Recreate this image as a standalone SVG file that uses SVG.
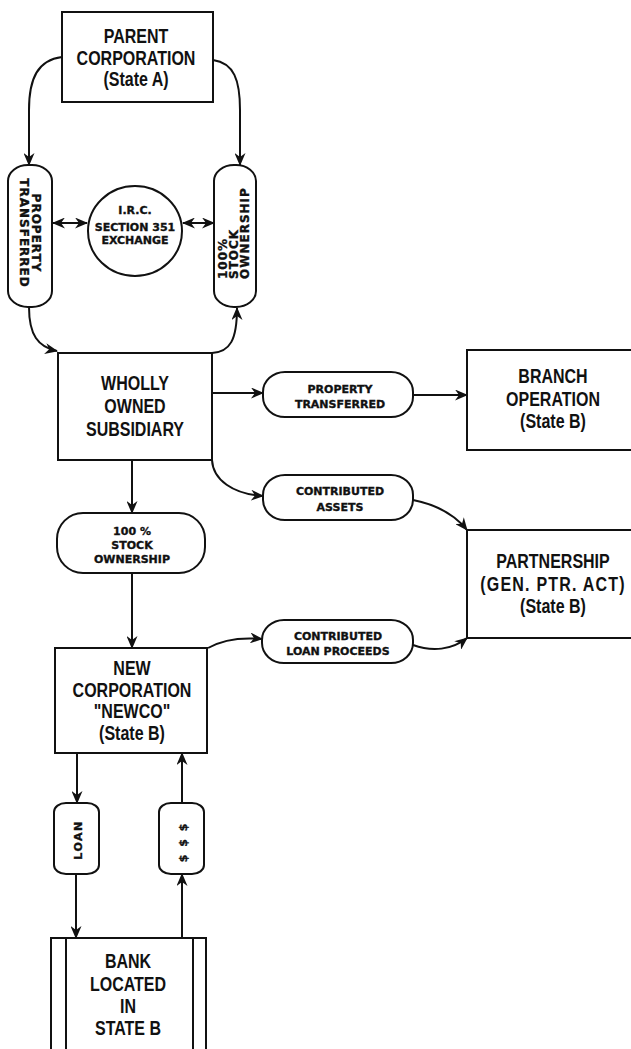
<svg xmlns="http://www.w3.org/2000/svg" width="631" height="1049" viewBox="0 0 631 1049">
<style>
.bg{fill:#fff}
.box{fill:none;stroke:#111;stroke-width:2}
.pill{fill:#fff;stroke:#111;stroke-width:2}
.big{font-family:"Liberation Sans",Arial,sans-serif;font-weight:bold;font-size:20px;fill:#111;text-anchor:middle}
.sm{font-family:"DejaVu Sans",sans-serif;font-weight:bold;font-size:11px;fill:#111;stroke:#111;stroke-width:0.35;text-anchor:middle}
.vt{font-family:"DejaVu Sans",sans-serif;font-weight:bold;font-size:12px;fill:#111;stroke:#111;stroke-width:0.35;letter-spacing:1px}
.con{fill:none;stroke:#111;stroke-width:2}
</style>
<defs>
<marker id="ah" viewBox="0 0 13 11" refX="12" refY="5.5" markerWidth="13" markerHeight="11" markerUnits="userSpaceOnUse" orient="auto-start-reverse">
<path d="M0,0 L13,5.5 L0,11 L4,5.5 z" fill="#111"/>
</marker>
</defs>
<rect class="bg" x="0" y="0" width="631" height="1049"/>

<g id="connectors">
<path class="con" d="M62,57 C38,60 29,78 29,110 L29,165" marker-end="url(#ah)"/>
<path class="con" d="M213,60 C234,63 240,80 240,110 L240,165" marker-end="url(#ah)"/>
<path class="con" d="M29,307 C29,335 38,347 57,351" marker-end="url(#ah)"/>
<path class="con" d="M212,353 C230,352 237,340 237,308" marker-end="url(#ah)"/>
<path class="con" d="M53,223 L87,223" marker-start="url(#ah)" marker-end="url(#ah)"/>
<path class="con" d="M183,223 L214,223" marker-start="url(#ah)" marker-end="url(#ah)"/>
<path class="con" d="M212,393 L263,393" marker-end="url(#ah)"/>
<path class="con" d="M413,395 L467,395" marker-end="url(#ah)"/>
<path class="con" d="M212,460 C213,480 233,494 263,496" marker-end="url(#ah)"/>
<path class="con" d="M413,500 C438,505 455,515 467,530" marker-end="url(#ah)"/>
<path class="con" d="M132,460 L132,513" marker-end="url(#ah)"/>
<path class="con" d="M132,573 L132,648" marker-end="url(#ah)"/>
<path class="con" d="M208,648 C222,640 240,637 262,639" marker-end="url(#ah)"/>
<path class="con" d="M413,645 C432,652 452,650 467,638" marker-end="url(#ah)"/>
<path class="con" d="M77,753 L77,803" marker-end="url(#ah)"/>
<path class="con" d="M76,874 L76,938" marker-end="url(#ah)"/>
<path class="con" d="M182,938 L182,874" marker-end="url(#ah)"/>
<path class="con" d="M182,803 L182,753" marker-end="url(#ah)"/>
</g>

<g id="parent">
<rect class="box" x="62" y="12" width="151" height="90"/>
<g transform="translate(136,0) scale(0.8,1)">
<text class="big" x="0" y="43">PARENT</text>
<text class="big" x="0" y="65">CORPORATION</text>
<text class="big" x="0" y="86">(State A)</text>
</g>
</g>

<g id="pill-property-left">
<rect class="pill" x="8" y="165" width="44" height="142" rx="20" ry="16"/>
<g transform="translate(30,233) rotate(90)">
<text class="vt" x="0" y="-2" text-anchor="middle">PROPERTY</text>
<text class="vt" x="0" y="10" text-anchor="middle">TRANSFERRED</text>
</g>
</g>

<g id="irc351">
<ellipse class="pill" cx="135" cy="231" rx="47" ry="45"/>
<text class="sm" x="135" y="214">I.R.C.</text>
<text class="sm" x="135" y="231">SECTION 351</text>
<text class="sm" x="135" y="244">EXCHANGE</text>
</g>

<g id="pill-stock-right">
<rect class="pill" x="214" y="165" width="42" height="142" rx="20" ry="16"/>
<g transform="translate(235,279) rotate(-90)">
<text class="vt" x="0" y="-8">100%</text>
<text class="vt" x="0" y="3">STOCK</text>
<text class="vt" x="0" y="14">OWNERSHIP</text>
</g>
</g>

<g id="wos">
<rect class="box" x="58" y="353" width="154" height="107"/>
<g transform="translate(135,0) scale(0.8,1)">
<text class="big" x="0" y="390">WHOLLY</text>
<text class="big" x="0" y="413">OWNED</text>
<text class="big" x="0" y="436">SUBSIDIARY</text>
</g>
</g>

<g id="pill-property-mid">
<rect class="pill" x="263" y="372" width="150" height="45" rx="22" ry="20"/>
<text class="sm" x="340" y="393">PROPERTY</text>
<text class="sm" x="340" y="408">TRANSFERRED</text>
</g>

<g id="branch">
<rect class="box" x="467" y="350" width="200" height="100"/>
<g transform="translate(553,0) scale(0.8,1)">
<text class="big" x="0" y="383">BRANCH</text>
<text class="big" x="0" y="406">OPERATION</text>
<text class="big" x="0" y="428">(State B)</text>
</g>
</g>

<g id="pill-contributed-assets">
<rect class="pill" x="263" y="475" width="150" height="45" rx="22" ry="20"/>
<text class="sm" x="340" y="495">CONTRIBUTED</text>
<text class="sm" x="340" y="511">ASSETS</text>
</g>

<g id="partnership">
<rect class="box" x="467" y="530" width="200" height="108"/>
<g transform="translate(553,0) scale(0.8,1)">
<text class="big" x="0" y="568">PARTNERSHIP</text>
<text class="big" x="0" y="591" letter-spacing="1.5">(GEN. PTR. ACT)</text>
<text class="big" x="0" y="613">(State B)</text>
</g>
</g>

<g id="pill-stock-mid">
<rect class="pill" x="57" y="513" width="148" height="60" rx="26" ry="26"/>
<text class="sm" x="132" y="535">100 %</text>
<text class="sm" x="132" y="549">STOCK</text>
<text class="sm" x="132" y="563">OWNERSHIP</text>
</g>

<g id="newco">
<rect class="box" x="55" y="648" width="152" height="105"/>
<g transform="translate(132,0) scale(0.8,1)">
<text class="big" x="0" y="675">NEW</text>
<text class="big" x="0" y="697">CORPORATION</text>
<text class="big" x="0" y="718">"NEWCO"</text>
<text class="big" x="0" y="740">(State B)</text>
</g>
</g>

<g id="pill-contributed-loan">
<rect class="pill" x="262" y="620" width="151" height="43" rx="22" ry="20"/>
<text class="sm" x="338" y="640">CONTRIBUTED</text>
<text class="sm" x="338" y="655">LOAN PROCEEDS</text>
</g>

<g id="pill-loan">
<rect class="pill" x="54" y="803" width="45" height="71" rx="12" ry="9"/>
<g transform="translate(77,840) rotate(-90)">
<text class="sm" x="0" y="4.5" font-size="12" letter-spacing="1.5">LOAN</text>
</g>
</g>

<g id="pill-dollars">
<rect class="pill" x="159" y="803" width="45" height="71" rx="12" ry="9"/>
<g transform="translate(182,842) rotate(-90)">
<text class="sm" x="0" y="4.5" font-size="12" letter-spacing="2">$ $ $</text>
</g>
</g>

<g id="bank">
<path class="box" d="M51,1060 L51,938 L206,938 L206,1060 M66,938 L66,1060 M193,938 L193,1060"/>
<g transform="translate(128,0) scale(0.8,1)">
<text class="big" x="0" y="968">BANK</text>
<text class="big" x="0" y="991">LOCATED</text>
<text class="big" x="0" y="1013">IN</text>
<text class="big" x="0" y="1035">STATE B</text>
</g>
</g>
</svg>
